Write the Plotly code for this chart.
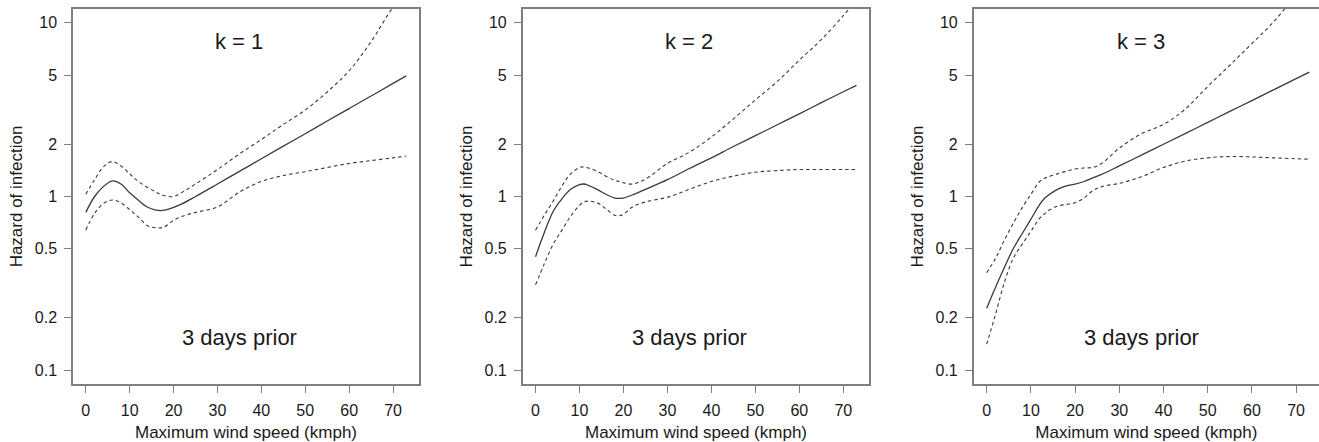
import plotly.graph_objects as go

# wind speed (kmph) at which the curves were read
x_k1 = [0, 2, 4, 6, 8, 10, 11, 12, 14, 16, 17, 18, 20, 22, 25, 30, 35, 40, 45, 50, 55, 60, 65, 70, 73]
fit_k1 = [0.81, 1.0, 1.14, 1.23, 1.18, 1.05, 1.0, 0.95, 0.87, 0.835, 0.83, 0.835, 0.865, 0.91, 1.0,
          1.18, 1.395, 1.65, 1.95, 2.30, 2.72, 3.21, 3.79, 4.48, 4.95]
upr_k1 = [1.03, 1.25, 1.48, 1.59, 1.50, 1.35, 1.28, 1.22, 1.13, 1.06, 1.03, 1.01, 1.0, 1.06, 1.18,
          1.43, 1.76, 2.13, 2.6, 3.15, 4.0, 5.3, 7.8, 12.3, 15.0]
lwr_k1 = [0.64, 0.80, 0.91, 0.955, 0.92, 0.84, 0.80, 0.76, 0.68, 0.66, 0.66, 0.67, 0.73, 0.77, 0.81,
          0.87, 1.06, 1.22, 1.32, 1.39, 1.47, 1.55, 1.61, 1.67, 1.71]

x_k2 = [0, 2, 4, 6, 8, 10, 11, 12, 14, 16, 18, 19, 20, 22, 25, 30, 35, 40, 45, 50, 55, 60, 65, 70, 73]
fit_k2 = [0.45, 0.62, 0.82, 0.97, 1.10, 1.17, 1.18, 1.16, 1.10, 1.03, 0.98, 0.975, 0.98, 1.02, 1.10,
          1.25, 1.45, 1.67, 1.94, 2.24, 2.59, 2.99, 3.47, 4.01, 4.37]
upr_k2 = [0.64, 0.78, 0.94, 1.15, 1.35, 1.47, 1.48, 1.46, 1.40, 1.31, 1.24, 1.22, 1.20, 1.18, 1.26,
          1.55, 1.80, 2.2, 2.8, 3.6, 4.6, 6.1, 8.0, 11.0, 13.5]
lwr_k2 = [0.31, 0.41, 0.53, 0.64, 0.77, 0.89, 0.93, 0.94, 0.92, 0.85, 0.78, 0.775, 0.79, 0.87, 0.93,
          0.99, 1.10, 1.22, 1.31, 1.38, 1.41, 1.43, 1.43, 1.43, 1.43]

x_k3 = [0, 2, 4, 6, 8, 10, 12, 13, 14, 16, 18, 20, 22, 24, 26, 30, 35, 40, 45, 50, 55, 60, 65, 70, 73]
fit_k3 = [0.227, 0.30, 0.39, 0.50, 0.61, 0.74, 0.90, 0.97, 1.02, 1.10, 1.15, 1.18, 1.22, 1.28, 1.34,
          1.50, 1.73, 2.0, 2.31, 2.67, 3.09, 3.57, 4.13, 4.77, 5.2]
upr_k3 = [0.364, 0.44, 0.56, 0.70, 0.86, 1.03, 1.22, 1.27, 1.30, 1.35, 1.40, 1.44, 1.46, 1.47, 1.55,
          1.90, 2.30, 2.60, 3.2, 4.3, 5.7, 7.6, 10.2, 14.5, 18.0]
lwr_k3 = [0.141, 0.21, 0.32, 0.44, 0.53, 0.63, 0.75, 0.79, 0.83, 0.88, 0.90, 0.92, 0.98, 1.08, 1.14,
          1.19, 1.30, 1.47, 1.60, 1.67, 1.70, 1.69, 1.67, 1.65, 1.64]

panels = [
    ("k = 1", x_k1, fit_k1, upr_k1, lwr_k1),
    ("k = 2", x_k2, fit_k2, upr_k2, lwr_k2),
    ("k = 3", x_k3, fit_k3, upr_k3, lwr_k3),
]
x_ticks = [0, 10, 20, 30, 40, 50, 60, 70]
y_ticks = [0.1, 0.2, 0.5, 1, 2, 5, 10]
y_labels = ["0.1", "0.2", "0.5", "1", "2", "5", "10"]

W, H = 1319, 442
# plot boxes in pixels (left, right) and x ranges
boxes = [(73, 419, [-2.92, 75.92]), (522.7, 869.3, [-2.92, 75.92]), (973.7, 1319, [-2.94, 75.18])]
y_dom = [(442 - 384) / H, (442 - 9) / H]

FONT = "Liberation Sans, Arial, sans-serif"
AX = "#7f7f7f"
LINE = "#3a3a3a"

fig = go.Figure()
layout = dict(width=W, height=H, margin=dict(l=0, r=0, t=0, b=0, autoexpand=False),
              paper_bgcolor="white", plot_bgcolor="white", showlegend=False,
              font=dict(family=FONT, size=16, color="#1a1a1a"),
              annotations=[], shapes=[])

for i, (lab, xs, fit, upr, lwr) in enumerate(panels):
    n = "" if i == 0 else str(i + 1)
    xa, ya = "x" + n, "y" + n
    for vals, dash, w in [(upr, "3.5px,3px", 1.1), (lwr, "3.5px,3px", 1.1), (fit, "solid", 1.3)]:
        fig.add_trace(go.Scatter(x=xs, y=vals, mode="lines", xaxis=xa, yaxis=ya,
                                 line=dict(color=LINE, width=w, dash=dash, shape="spline", smoothing=1.0),
                                 hoverinfo="skip"))
    left, right, xr = boxes[i]
    layout["xaxis" + n] = dict(domain=[left / W, right / W], range=xr, anchor=ya, automargin=False,
                               tickvals=x_ticks, ticks="outside", ticklen=7, tickwidth=1.3,
                               tickcolor=AX, showline=True, linecolor=AX, linewidth=1.5,
                               mirror=True, showgrid=False, zeroline=False,
                               tickfont=dict(size=16), ticklabelstandoff=4,
                               title=dict(text="Maximum wind speed (kmph)", font=dict(size=17), standoff=8))
    layout["yaxis" + n] = dict(domain=y_dom, type="log", range=[-1.08, 1.08], anchor=xa, automargin=False,
                               tickvals=y_ticks, ticktext=y_labels, ticks="outside", ticklen=7,
                               tickwidth=1.3, tickcolor=AX, showline=True, linecolor=AX, linewidth=1.5,
                               mirror=(i < 2), showgrid=False, zeroline=False,
                               tickfont=dict(size=16), ticklabelstandoff=4,
                               title=dict(text="Hazard of infection", font=dict(size=17), standoff=8))
    # reference line at hazard = 1
    layout["shapes"].append(dict(type="line", xref=xa + " domain", yref=ya, x0=0, x1=1, y0=0, y1=0,
                                 line=dict(color="#9a9a9a", width=1, dash="1px,2px")))
    layout["annotations"].append(dict(text=lab, xref=xa, yref=ya + " domain", x=35, y=0.913,
                                      xanchor="center", yanchor="middle",
                                      showarrow=False, font=dict(size=22)))
    layout["annotations"].append(dict(text="3 days prior", xref=xa, yref=ya + " domain", x=35, y=0.123,
                                      xanchor="center", yanchor="middle",
                                      showarrow=False, font=dict(size=22)))

fig.update_layout(**layout)
# drop the page's default body margin so the figure sits at the window's corner
fig.write_html("out.html", config={"displayModeBar": False},
               post_script="document.body.style.margin='0';document.body.style.overflow='hidden';")
